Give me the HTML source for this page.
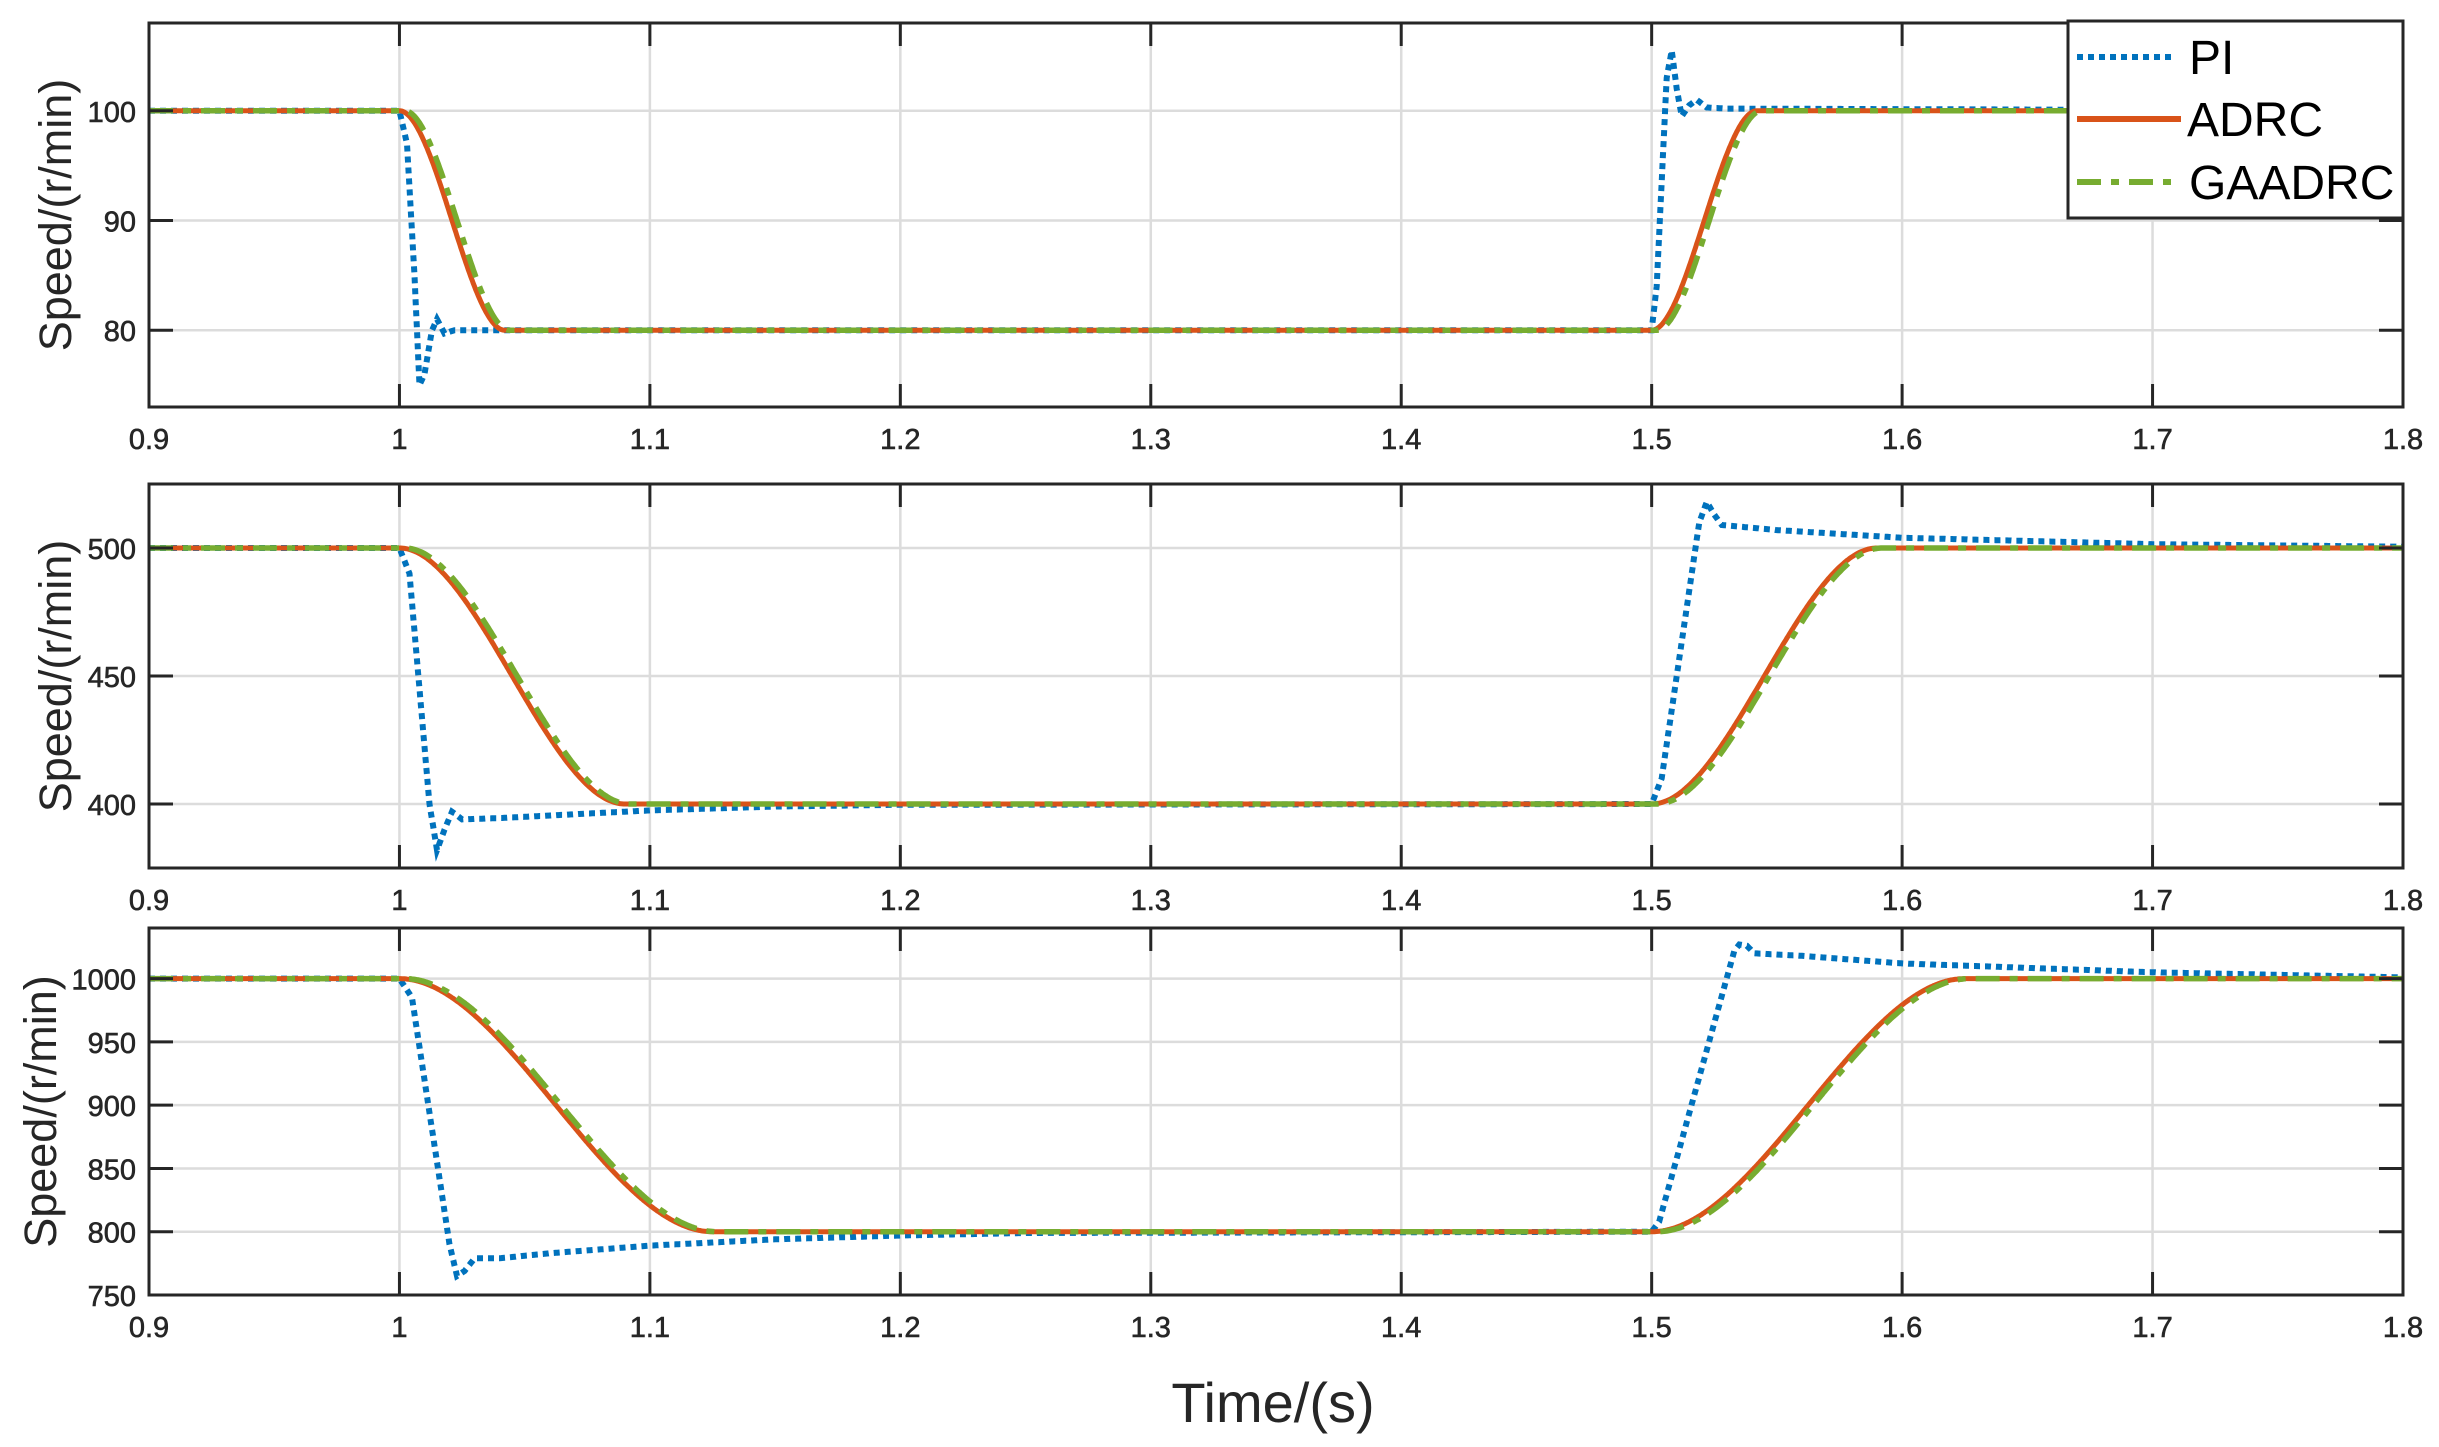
<!DOCTYPE html>
<html><head><meta charset="utf-8"><style>
html,body{margin:0;padding:0;background:#fff;}
svg{display:block;font-family:"Liberation Sans",Arial,sans-serif;}
</style></head><body>
<svg id="s" width="2439" height="1447" viewBox="0 0 2439 1447" xmlns="http://www.w3.org/2000/svg">
<rect width="2439" height="1447" fill="#fff"/>
<g id="g"></g>
<text x="1273" y="1422" font-size="56" text-anchor="middle" fill="#262626">Time/(s)</text>
<g>
<rect x="2068" y="21" width="335" height="197" fill="#fff" stroke="#262626" stroke-width="3"/>
<line x1="2077" y1="57" x2="2176" y2="57" stroke="#0072BD" stroke-width="6" stroke-dasharray="6,5"/>
<text x="2189" y="74" font-size="48" fill="#000">PI</text>
<line x1="2077" y1="119" x2="2181" y2="119" stroke="#D95319" stroke-width="6"/>
<text x="2187" y="136" font-size="48" fill="#000">ADRC</text>
<line x1="2077" y1="182" x2="2181" y2="182" stroke="#77AC30" stroke-width="6" stroke-dasharray="24,10,8,10"/>
<text x="2189" y="199" font-size="48" fill="#000">GAADRC</text>
</g>
</svg>
<script>
var NS="http://www.w3.org/2000/svg",G=document.getElementById('g');
var L=149,R=2403;
function X(t){return L+(t-0.9)/0.9*(R-L);}
function el(n,a){var e=document.createElementNS(NS,n);for(var k in a)e.setAttribute(k,a[k]);G.appendChild(e);return e;}
function ss(u){u=Math.max(0,Math.min(1,u));return u*u*(3-2*u);}
function interp(pts,t){for(var i=0;i<pts.length-1;i++){if(t>=pts[i][0]&&t<=pts[i+1][0]){var a=pts[i],b=pts[i+1];return a[1]+(b[1]-a[1])*(t-a[0])/(b[0]-a[0]);}}return pts[pts.length-1][1];}
var P=[
{top:23,bot:407,ymin:73,ymax:108,ticks:[80,90,100],hi:100,lo:80,T:0.042,labx:55,
 pi:[[0.9,100],[1.0,100],[1.003,97],[1.006,85],[1.008,75],[1.010,76],[1.013,80],[1.015,81],[1.018,79.7],[1.022,80],[1.5,80],[1.502,84],[1.506,103],[1.508,105.5],[1.510,102],[1.512,99.5],[1.515,100.5],[1.518,101],[1.522,100.3],[1.53,100.2],[1.8,100]]},
{top:484,bot:868,ymin:375,ymax:525,ticks:[400,450,500],hi:500,lo:400,T:0.09,labx:55,
 pi:[[0.9,500],[1.0,500],[1.004,490],[1.012,400],[1.015,382],[1.018,390],[1.021,397],[1.025,394],[1.04,394.5],[1.06,395.5],[1.1,397.5],[1.15,399],[1.2,399.7],[1.5,400],[1.504,410],[1.519,510],[1.522,518],[1.525,513],[1.528,509],[1.55,507],[1.6,504],[1.7,501.5],[1.8,500.5]]},
{top:928,bot:1295,ymin:750,ymax:1040,ticks:[750,800,850,900,950,1000],hi:1000,lo:800,T:0.125,labx:40,
 pi:[[0.9,1000],[1.0,1000],[1.005,985],[1.020,790],[1.023,765],[1.026,769],[1.030,779],[1.04,779],[1.06,783],[1.1,789],[1.15,794],[1.2,797],[1.25,799],[1.5,800],[1.503,808],[1.533,1022],[1.535,1027],[1.538,1026],[1.541,1020],[1.56,1018],[1.6,1012],[1.7,1005],[1.8,1001]]}
];
P.forEach(function(p){
 function Y(v){return p.bot-(v-p.ymin)/(p.ymax-p.ymin)*(p.bot-p.top);}
 for(var t=1.0;t<1.79;t+=0.1){el('line',{x1:X(t),y1:p.top,x2:X(t),y2:p.bot,stroke:'#dcdcdc','stroke-width':2.5});}
 p.ticks.forEach(function(v){if(v>p.ymin)el('line',{x1:L,y1:Y(v),x2:R,y2:Y(v),stroke:'#dcdcdc','stroke-width':2.5});});
 var d1='',d2='',d3='';
 for(var i=0;i<=1800;i++){var t=0.9+i*0.0005;
  var a=p.hi-(p.hi-p.lo)*ss((t-1.0)/p.T)+(p.hi-p.lo)*ss((t-1.5)/p.T);
  var b=p.hi-(p.hi-p.lo)*ss((t-1.002)/p.T)+(p.hi-p.lo)*ss((t-1.502)/p.T);
  var c=interp(p.pi,t);
  d1+=(i?'L':'M')+X(t).toFixed(1)+','+Y(a).toFixed(1);
  d2+=(i?'L':'M')+X(t).toFixed(1)+','+Y(b).toFixed(1);
  d3+=(i?'L':'M')+X(t).toFixed(1)+','+Y(c).toFixed(1);}
 el('path',{d:d3,fill:'none',stroke:'#0072BD','stroke-width':6,'stroke-dasharray':'6,5'});
 el('path',{d:d1,fill:'none',stroke:'#D95319','stroke-width':5});
 el('path',{d:d2,fill:'none',stroke:'#77AC30','stroke-width':5.5,'stroke-dasharray':'24,10,8,10'});
 el('rect',{x:L,y:p.top,width:R-L,height:p.bot-p.top,fill:'none',stroke:'#262626','stroke-width':3});
 for(var k=0;k<=9;k++){var t=0.9+k*0.1,x=X(t);
  el('line',{x1:x,y1:p.bot,x2:x,y2:p.bot-23,stroke:'#262626','stroke-width':3});
  el('line',{x1:x,y1:p.top,x2:x,y2:p.top+23,stroke:'#262626','stroke-width':3});
  var tx=el('text',{x:x,y:p.bot+42,'font-size':29,'text-anchor':'middle',fill:'#262626',stroke:'#262626','stroke-width':0.6});
  tx.textContent=(k==1?'1':t.toFixed(1));}
 p.ticks.forEach(function(v){var y=Y(v);
  el('line',{x1:L,y1:y,x2:L+24,y2:y,stroke:'#262626','stroke-width':3});
  el('line',{x1:R,y1:y,x2:R-24,y2:y,stroke:'#262626','stroke-width':3});
  var tx=el('text',{x:L-13,y:y+11,'font-size':29,'text-anchor':'end',fill:'#262626',stroke:'#262626','stroke-width':0.6});tx.textContent=v;});
 var cy=(p.top+p.bot)/2;
 var lt=el('text',{x:p.labx,y:cy,'font-size':45,'text-anchor':'middle',fill:'#262626',transform:'rotate(-90 '+p.labx+' '+cy+')'});
 lt.setAttribute('dy','16');lt.textContent='Speed/(r/min)';
});
</script>
</body></html>
